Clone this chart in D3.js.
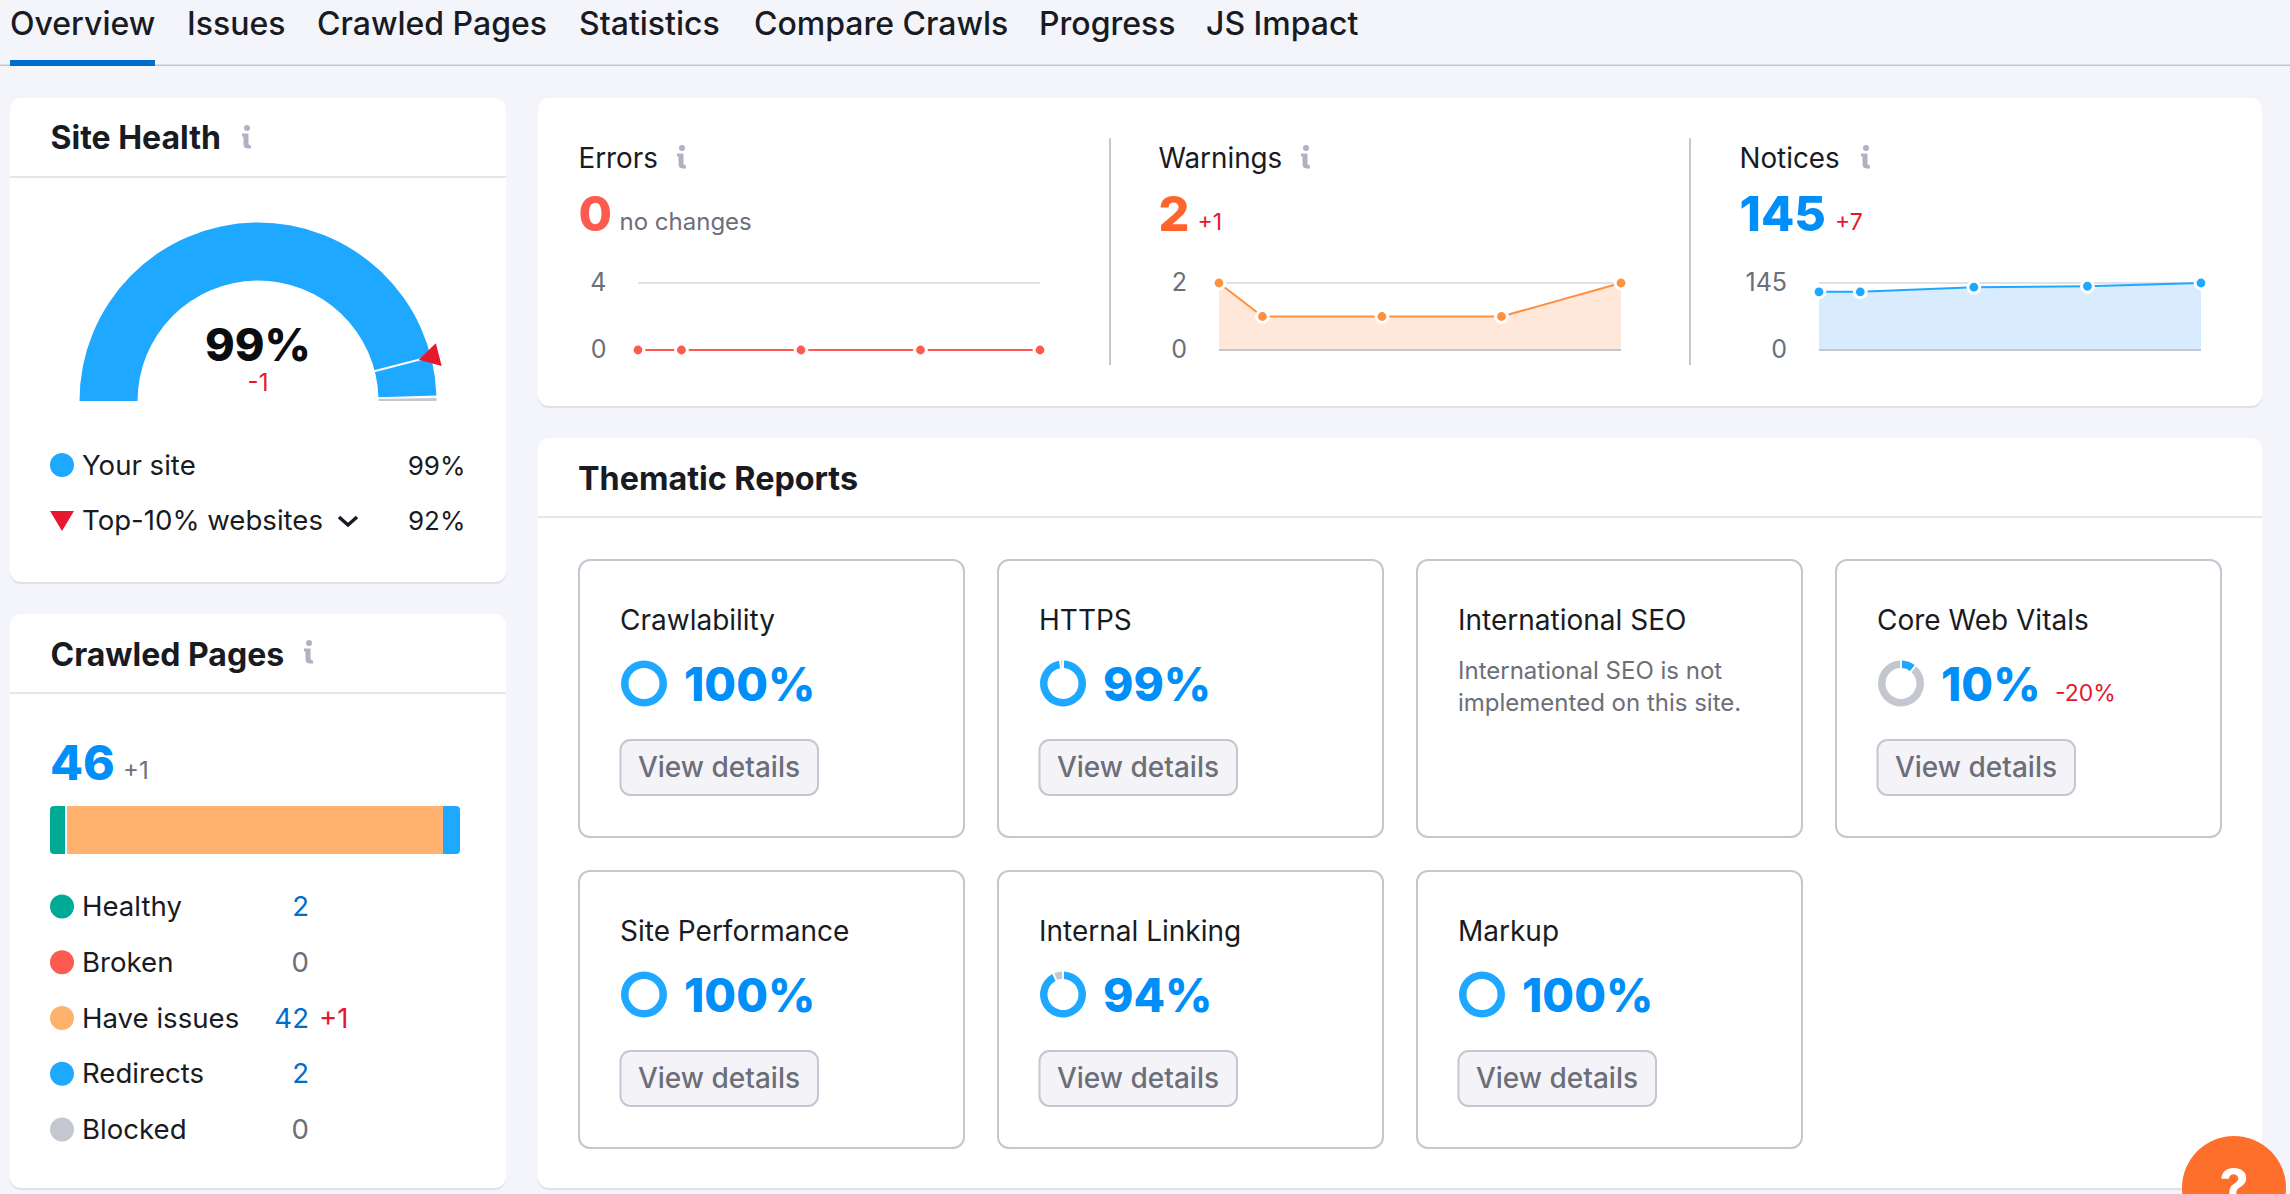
<!DOCTYPE html>
<html><head><meta charset="utf-8">
<script src="https://cdn.jsdelivr.net/npm/d3@7"></script>
<style>
html,body{margin:0;padding:0;background:#f4f4fb;overflow:hidden}
svg{display:block}
text{font-family:Inter,"Noto Sans",sans-serif}
</style></head><body>
<svg id="c" width="2290" height="1194"></svg>
<script>
// ---- data ----
const tabLabels = ["Overview","Issues","Crawled Pages","Statistics","Compare Crawls","Progress","JS Impact"];
const siteHealthValue = 99;
const siteHealthDelta = "-1";
const topTenValue = 92;
const crawlDays = [0,4,15,26,37];
const errorsSeries = [0,0,0,0,0];
const warningsSeries = [2,1,1,1,2];
const noticesSeries = [126,126,136,138,145];
const crawledTotal = 46;
const crawledCategories = ["Healthy","Broken","Have issues","Redirects","Blocked"];
const crawledValues = [2,0,42,2,0];
const crawledColors = ["#00ab96","#ff5a50","#ffb26e","#1fa8ff","#c4c7cf"];
const reportNames = ["Crawlability","HTTPS","International SEO","Core Web Vitals","Site Performance","Internal Linking","Markup"];
const reportScores = [100,99,null,10,100,94,100];

const C = {ink:"#191b23",grey:"#6c6e79",red:"#e6172f",blue:"#008ff8",sky:"#1fa8ff",line:"#c4c7cf",soft:"#e0e1e9",link:"#006dca"};
const svg = d3.select("#c");
const root = svg.append("g");

function T(parent,x,y,str,size,weight,fill,opt={}){
  return parent.append("text").attr("x",x).attr("y",y)
    .attr("font-size",size).attr("font-weight",weight).attr("fill",fill)
    .attr("text-anchor",opt.anchor||"start").text(str);
}
function infoIcon(parent,cx,top){
  const g = parent.append("g").attr("transform",`translate(${cx},${top})`).attr("fill","#b0b1c2");
  g.append("circle").attr("cx",1).attr("cy",3).attr("r",3);
  g.append("path").attr("d","M-4 8.5h6.5v10q0 2 2.5 2v3h-3q-4.5 0-4.5-4.5v-7.5h-1.5z");
}
function card(x,y,w,h){
  root.append("rect").attr("x",x).attr("y",y+1).attr("width",w).attr("height",h+1).attr("rx",11).attr("fill","#dfe0ea");
  root.append("rect").attr("x",x).attr("y",y).attr("width",w).attr("height",h).attr("rx",11).attr("fill","#fff");
}
function hr(x1,x2,y,col,sw){root.append("line").attr("x1",x1).attr("x2",x2).attr("y1",y).attr("y2",y).attr("stroke",col).attr("stroke-width",sw);}

// ---- tabs ----
const tabX = [10,187,317,579,754,1039,1206];
tabLabels.forEach((t,i)=>T(root,tabX[i],34.5,t,32,500,C.ink));
root.append("rect").attr("x",0).attr("y",64.5).attr("width",2290).attr("height",1.5).attr("fill",C.line);
root.append("rect").attr("x",10).attr("y",60).attr("width",145).attr("height",6).attr("fill",C.link);

// ---- Site Health ----
card(10,98,496,484);
hr(10,506,177,"#e3e4ec",2);
T(root,50.5,148.5,"Site Health",32,700,C.ink);
infoIcon(root,246,125);
const gauge = root.append("g").attr("transform","translate(258,401)");
const ang = d3.scaleLinear().domain([0,100]).range([-Math.PI/2,Math.PI/2]);
const arc = d3.arc().innerRadius(120.5).outerRadius(178.5);
gauge.append("path").attr("fill",C.sky).attr("d",arc({startAngle:ang(0),endAngle:ang(siteHealthValue)}));
gauge.append("path").attr("fill",C.line).attr("d",arc({startAngle:ang(siteHealthValue+0.45),endAngle:ang(100)}));
const a92 = ang(topTenValue);
const pol = (r,a)=>[r*Math.sin(a),-r*Math.cos(a)];
gauge.append("line").attr("x1",pol(120,a92)[0]).attr("y1",pol(120,a92)[1]).attr("x2",pol(170,a92)[0]).attr("y2",pol(170,a92)[1]).attr("stroke","#fff").attr("stroke-width",2);
gauge.append("path").attr("fill",C.red).attr("d",d3.line()([pol(166,a92),pol(187,a92-0.063),pol(187,a92+0.063)])+"Z");
T(root,258,361,siteHealthValue+"%",45,800,"#0b0c10",{anchor:"middle"});
T(root,258,391,siteHealthDelta,24,400,C.red,{anchor:"middle"});

root.append("circle").attr("cx",62).attr("cy",465).attr("r",12).attr("fill",C.sky);
T(root,82,475,"Your site",27.6,400,C.ink);
T(root,465.5,475,siteHealthValue+"%",26,400,C.ink,{anchor:"end"});
root.append("path").attr("d",d3.line()([[50,511],[74,511],[62,531]])+"Z").attr("fill",C.red);
T(root,82,530,"Top-10% websites",27.6,400,C.ink);
root.append("path").attr("d",d3.line()([[339,517],[348,525],[357,517]])).attr("fill","none").attr("stroke",C.ink).attr("stroke-width",3.4);
T(root,465.5,530,topTenValue+"%",26,400,C.ink,{anchor:"end"});

// ---- Crawled Pages ----
card(10,614,496,574);
hr(10,506,693,"#e3e4ec",2);
T(root,50.5,665.5,"Crawled Pages",32,700,C.ink);
infoIcon(root,308,640);
T(root,50,779.5,crawledTotal,48,800,C.blue);
T(root,123,779,"+1",24,400,C.grey);
const barX = d3.scaleLinear().domain([0,crawledTotal]).range([50,460]);
const stack = d3.cumsum(crawledValues);
root.append("clipPath").attr("id","barclip").append("rect").attr("x",50).attr("y",806).attr("width",410).attr("height",48).attr("rx",4);
root.append("g").attr("clip-path","url(#barclip)").selectAll("rect").data(crawledValues.map((v,i)=>({v,i,s:stack[i]-v,e:stack[i]})).filter(d=>d.v>0)).join("rect")
  .attr("x",d=>barX(d.s)+(d.i==2?-0.8:d.i==3?0.8:0))
  .attr("width",d=>barX(d.e)-barX(d.s)+(d.i==2?1.6:-2.8+(d.i==3?2:0)))
  .attr("y",806).attr("height",48).attr("fill",d=>crawledColors[d.i]);
const rowY = d3.scaleLinear().domain([0,4]).range([906.5,1129.5]);
crawledCategories.forEach((c,i)=>{
  const y=rowY(i);
  root.append("circle").attr("cx",62).attr("cy",y).attr("r",12).attr("fill",crawledColors[i]);
  T(root,82,y+9.5,c,27.6,400,C.ink);
  T(root,309,y+9.5,crawledValues[i],27.6,400,crawledValues[i]?C.link:C.grey,{anchor:"end"});
});
T(root,319,rowY(2)+9.5,"+1",27.6,400,C.red);

// ---- Issues strip ----
card(538,98,1724,308);
[1110,1690].forEach(x=>root.append("line").attr("x1",x).attr("x2",x).attr("y1",138).attr("y2",365).attr("stroke",C.line).attr("stroke-width",2));
const panels=[
 {title:"Errors",x:578.5,icon:681,big:"0",bigCol:"#ff5a50",delta:"no changes",dCol:C.grey,dx:619.5,series:errorsSeries,ticks:[4,0],max:4,r0:638,r1:1040,lab:606.5,line:"#ff5a50",dot:"#ff5a50",area:null},
 {title:"Warnings",x:1158.5,icon:1305,big:"2",bigCol:"#ff642d",delta:"+1",dCol:C.red,dx:1197.5,series:warningsSeries,ticks:[2,0],max:2,r0:1219,r1:1621,lab:1187,line:"#ff9040",dot:"#ff9040",area:"#ffe8da"},
 {title:"Notices",x:1739.5,icon:1865,big:"145",bigCol:C.blue,delta:"+7",dCol:C.red,dx:1835,series:noticesSeries,ticks:[145,0],max:145,r0:1819,r1:2201,lab:1787,line:C.sky,dot:C.sky,area:"#d9ecff"}
];
panels.forEach(p=>{
  T(root,p.x,168,p.title,27.8,400,C.ink);
  infoIcon(root,p.icon,145);
  T(root,p.x,230.5,p.big,48.5,800,p.bigCol);
  T(root,p.dx,230,p.delta,p.delta.length>3?24:23,400,p.dCol);
  const x=d3.scaleLinear().domain(d3.extent(crawlDays)).range([p.r0,p.r1]);
  const y=d3.scaleLinear().domain([0,p.max]).range([350,283]);
  p.ticks.forEach(t=>T(root,p.lab,y(t)+8,t,25,400,C.grey,{anchor:"end"}));
  root.append("line").attr("x1",p.r0).attr("x2",p.r1).attr("y1",y(p.max)).attr("y2",y(p.max)).attr("stroke",C.soft).attr("stroke-width",2);
  if(p.area){
    root.append("path").attr("fill",p.area).attr("d",d3.area().x((d,i)=>x(crawlDays[i])).y0(y(0)).y1(d=>y(d))(p.series));
    root.append("line").attr("x1",p.r0).attr("x2",p.r1).attr("y1",y(0)).attr("y2",y(0)).attr("stroke",C.line).attr("stroke-width",2);
  }
  root.append("path").attr("fill","none").attr("stroke",p.line).attr("stroke-width",2).attr("d",d3.line().x((d,i)=>x(crawlDays[i])).y(d=>y(d))(p.series));
  root.append("g").selectAll("circle").data(p.series).join("circle").attr("cx",(d,i)=>x(crawlDays[i])).attr("cy",d=>y(d)).attr("r",4.4).attr("fill",p.dot).attr("stroke","#fff").attr("stroke-width",6).attr("paint-order","stroke");
});

// ---- Thematic Reports ----
card(538,438,1724,750);
hr(538,2262,517,"#e3e4ec",2);
T(root,578,490,"Thematic Reports",32.3,700,C.ink);
const tileX=[579,998,1417,1836], tileY=[560,871];
const pie=d3.pie().sort(null);
const dArc=d3.arc().innerRadius(15.5).outerRadius(23);
reportNames.forEach((name,i)=>{
  const x=tileX[i%4], y=tileY[Math.floor(i/4)], s=reportScores[i];
  const g=root.append("g").attr("transform",`translate(${x},${y})`);
  g.append("rect").attr("x",0).attr("y",0).attr("width",385).attr("height",277).attr("rx",11).attr("fill","#fff").attr("stroke",C.line).attr("stroke-width",2);
  T(g,41,70,name,28,400,C.ink);
  if(s===null){
    T(g,41,118.5,"International SEO is not",24,400,C.grey);
    T(g,41,151,"implemented on this site.",24,400,C.grey);
    return;
  }
  const dg=g.append("g").attr("transform","translate(65,123.5)");
  const slices=s===100?pie([100]):pie.padAngle(0.07)([s,100-s]);
  dg.selectAll("path").data(slices).join("path").attr("d",dArc).attr("fill",(d,j)=>j?C.line:C.sky);
  T(g,105,140.5,s+"%",46,800,C.blue);
  if(s===10) T(g,219,140.5,"-20%",23,400,C.red);
  g.append("rect").attr("x",41.5).attr("y",180).attr("width",197.5).attr("height",55).attr("rx",10).attr("fill","#f4f4f8").attr("stroke",C.line).attr("stroke-width",2);
  T(g,140,217,"View details",28,500,C.grey,{anchor:"middle"});
});

// ---- help ----
root.append("circle").attr("cx",2234).attr("cy",1188).attr("r",52).attr("fill","#ff6f2c");
T(root,2234,1206,"?",52,700,"#fff",{anchor:"middle"});
</script>
</body></html>
